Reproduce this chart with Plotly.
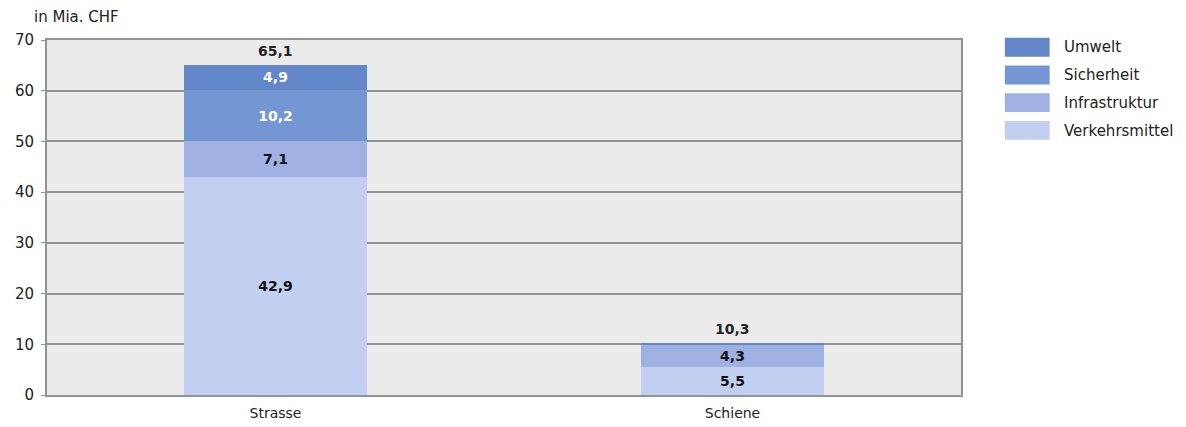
import plotly.graph_objects as go

# Externe und interne Kosten des Verkehrs, in Mia. CHF
categories = ["Strasse", "Schiene"]
series = ["Verkehrsmittel", "Infrastruktur", "Sicherheit", "Umwelt"]
verkehrsmittel = [42.9, 5.5]
infrastruktur = [7.1, 4.3]
sicherheit = [10.2, 0.0]
umwelt = [4.9, 0.5]
totals = [65.1, 10.3]

values = [verkehrsmittel, infrastruktur, sicherheit, umwelt]
colors = ["#c3cff0", "#9fb1e3", "#7497d3", "#6387c9"]
text_colors = ["#111111", "#111111", "white", "white"]
FONT = "DejaVu Sans"

fig = go.Figure()
for name, vals, col, tcol in zip(series, values, colors, text_colors):
    labels = [f"{v:.1f}".replace(".", ",") if v >= 1 else "" for v in vals]
    fig.add_trace(go.Bar(
        x=categories, y=vals, name=name, marker_color=col, marker_line_width=0,
        text=labels, textposition="inside", insidetextanchor="middle",
        textfont=dict(color=tcol, size=14, family=FONT, weight="bold"),
        showlegend=False,
    ))

# totals above the bars
for cat, tot in zip(categories, totals):
    fig.add_annotation(x=cat, y=tot, text=f"<b>{tot:.1f}</b>".replace(".", ","),
                       showarrow=False, yanchor="bottom", yshift=4,
                       font=dict(size=14, color="#222222", family=FONT))

# legend drawn at the right, top entry = Umwelt
for i, (name, col) in enumerate(zip(series[::-1], colors[::-1])):
    y0 = 1.006 - i * 0.078
    fig.add_shape(type="rect", xref="paper", yref="paper",
                  x0=1.048, x1=1.097, y0=y0 - 0.053, y1=y0,
                  fillcolor=col, line_width=0)
    fig.add_annotation(xref="paper", yref="paper", x=1.111, y=y0 - 0.027,
                       text=name, showarrow=False, xanchor="left", yanchor="middle",
                       font=dict(size=15, color="#222222", family=FONT))

fig.add_annotation(xref="paper", yref="paper", x=-0.016, y=1.035,
                   text="in Mia. CHF", showarrow=False, xanchor="left", yanchor="bottom",
                   font=dict(size=15, color="#222222", family=FONT))

# the page adds an 8px body margin, so the figure is 8px smaller
fig.update_layout(
    width=1178, height=419,
    margin=dict(l=39, r=225, t=32, b=32),
    barmode="stack", bargap=0.6,
    plot_bgcolor="#ebebeb", paper_bgcolor="white",
    font=dict(family=FONT, size=15, color="#222222"),
    showlegend=False,
    uniformtext=dict(mode="show", minsize=14),
)
fig.update_yaxes(range=[0, 70], dtick=10, showgrid=True, gridcolor="#939393", gridwidth=1.5,
                 showline=True, linecolor="#939393", linewidth=2, mirror=True, automargin=False,
                 ticks="outside", ticklen=4, tickcolor="#939393", ticklabelstandoff=4,
                 zeroline=False)
fig.update_xaxes(showline=True, linecolor="#939393", linewidth=2, mirror=True, ticks="",
                 automargin=False, tickfont=dict(size=14), ticklabelstandoff=4)

fig.write_html("out.html")
